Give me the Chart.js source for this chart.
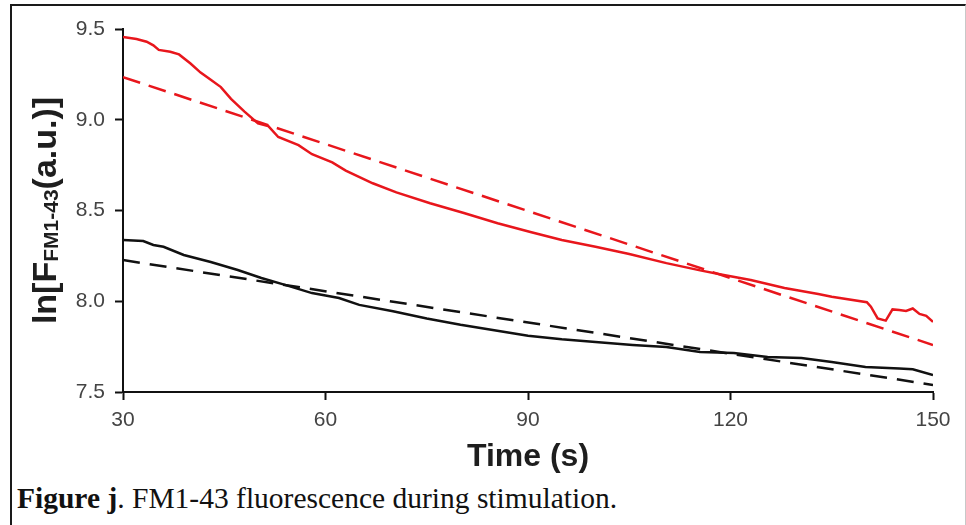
<!DOCTYPE html>
<html>
<head>
<meta charset="utf-8">
<script src="https://cdn.jsdelivr.net/npm/chart.js@4.4.1/dist/chart.umd.min.js"></script>
<style>
  html, body { margin: 0; padding: 0; background: #fff; width: 966px; height: 525px; overflow: hidden; }
  #frame { position: absolute; left: 10px; top: 4px; width: 953px; height: 540px;
           border-top: 2px solid #1a1a1a; border-left: 2px solid #1a1a1a; border-right: 1px solid #c8c8c8; }
  #chart { position: absolute; left: 0; top: 0; }
  #caption { position: absolute; left: 17px; top: 482px; font-family: "Liberation Serif", "Times New Roman", serif;
             font-size: 29.5px; line-height: 32px; color: #111; white-space: nowrap; }
</style>
</head>
<body>
<div id="frame"></div>
<canvas id="chart" width="966" height="480"></canvas>
<div id="caption"><b>Figure j</b>. FM1-43 fluorescence during stimulation.</div>
<script>
// ---- data ----
const redTime = [30, 32, 33.5, 34.5, 35.3, 37, 38.3, 40, 41.5, 43, 44.5, 46, 48, 50, 51.5, 53, 56, 58, 61, 63, 67, 70.5, 75.5, 80.5, 85.5, 90.5, 95, 100, 105, 110.5, 115.5, 119, 123, 128, 133, 135, 140.2, 140.8, 141.8, 143, 144, 145, 146, 147, 148, 149, 150];
const redValues = [9.456, 9.445, 9.43, 9.41, 9.385, 9.375, 9.36, 9.31, 9.26, 9.22, 9.18, 9.115, 9.045, 8.98, 8.966, 8.905, 8.86, 8.81, 8.765, 8.72, 8.65, 8.60, 8.54, 8.486, 8.43, 8.38, 8.337, 8.30, 8.26, 8.21, 8.17, 8.145, 8.117, 8.073, 8.04, 8.025, 7.995, 7.97, 7.905, 7.893, 7.955, 7.952, 7.947, 7.96, 7.93, 7.92, 7.886];
const redFitTime = [30, 150];
const redFitValues = [9.235, 7.759];

const blackTime = [30, 33, 34.5, 36, 39, 43, 47, 50.5, 54, 58, 62, 65, 70, 75, 80, 85, 90, 95, 100, 105.5, 110.5, 115.5, 120.5, 125.5, 130.5, 135, 140, 145, 147, 150];
const blackValues = [8.337, 8.332, 8.31, 8.30, 8.255, 8.216, 8.172, 8.128, 8.09, 8.045, 8.018, 7.98, 7.945, 7.905, 7.87, 7.84, 7.81, 7.79, 7.775, 7.759, 7.748, 7.72, 7.715, 7.693, 7.687, 7.665, 7.638, 7.63, 7.625, 7.594];
const blackFitTime = [30, 150];
const blackFitValues = [8.227, 7.539];

const xTicks = [30, 60, 90, 120, 150];
const yTicks = [7.5, 8.0, 8.5, 9.0, 9.5];
const xTitle = "Time (s)";
const yTitleMain1 = "ln[F";
const yTitleSub = "FM1-43";
const yTitleMain2 = "(a.u.)]";

const pts = (xs, ys) => xs.map((x, i) => ({ x: x, y: ys[i] }));
const RED = "#e8161c";
const BLACK = "#111111";
const SANS = "'Liberation Sans', Arial, sans-serif";

const yTitlePlugin = {
  id: "yTitle",
  afterDraw(chart) {
    const ctx = chart.ctx;
    const mainFont = "bold 34px " + SANS;
    const subFont = "bold 21px " + SANS;
    ctx.save();
    ctx.font = mainFont;
    const w1 = ctx.measureText(yTitleMain1).width;
    const w3 = ctx.measureText(yTitleMain2).width;
    ctx.font = subFont;
    const w2 = ctx.measureText(yTitleSub).width;
    const total = w1 + w2 + w3;
    const cy = (chart.chartArea.top + chart.chartArea.bottom) / 2;
    ctx.translate(56, cy);
    ctx.rotate(-Math.PI / 2);
    ctx.fillStyle = "#1e1e1e";
    ctx.textBaseline = "alphabetic";
    ctx.textAlign = "left";
    let x = -total / 2;
    ctx.font = mainFont; ctx.fillText(yTitleMain1, x, 0); x += w1;
    ctx.font = subFont; ctx.fillText(yTitleSub, x, 2); x += w2;
    ctx.font = mainFont; ctx.fillText(yTitleMain2, x, 0);
    ctx.restore();
  }
};

new Chart(document.getElementById("chart"), {
  type: "line",
  data: {
    datasets: [
      { data: pts(redTime, redValues), borderColor: RED, borderWidth: 2.5, pointRadius: 0, tension: 0 },
      { data: pts(redFitTime, redFitValues), borderColor: RED, borderWidth: 2.5, borderDash: [18, 9], pointRadius: 0 },
      { data: pts(blackTime, blackValues), borderColor: BLACK, borderWidth: 2.5, pointRadius: 0, tension: 0 },
      { data: pts(blackFitTime, blackFitValues), borderColor: BLACK, borderWidth: 2.5, borderDash: [17, 10], pointRadius: 0 }
    ]
  },
  options: {
    responsive: false,
    animation: false,
    devicePixelRatio: 1,
    layout: { padding: { left: 0, right: 33, top: 29, bottom: 0 } },
    plugins: { legend: { display: false }, tooltip: { enabled: false } },
    scales: {
      x: {
        type: "linear", min: 30, max: 150,
        afterBuildTicks: s => { s.ticks = xTicks.map(v => ({ value: v })); },
        afterFit: s => { s.height = 88; },
        ticks: { color: "#444", font: { family: SANS, size: 21 }, padding: 8, maxRotation: 0 },
        grid: { drawOnChartArea: false, drawTicks: true, tickLength: 8, tickColor: BLACK, tickWidth: 2 },
        border: { display: true, color: BLACK, width: 2 },
        title: { display: true, text: xTitle, color: "#1e1e1e",
                 font: { family: SANS, size: 32, weight: "bold" },
                 padding: { top: 0, bottom: 4 } }
      },
      y: {
        type: "linear", min: 7.5, max: 9.5,
        afterBuildTicks: s => { s.ticks = yTicks.map(v => ({ value: v })); },
        afterFit: s => { s.width = 123; },
        ticks: { color: "#444", font: { family: SANS, size: 21 }, padding: 10,
                 callback: v => Number(v).toFixed(1) },
        grid: { drawOnChartArea: false, drawTicks: true, tickLength: 8, tickColor: BLACK, tickWidth: 2 },
        border: { display: true, color: BLACK, width: 2 }
      }
    }
  },
  plugins: [yTitlePlugin]
});
</script>
</body>
</html>
